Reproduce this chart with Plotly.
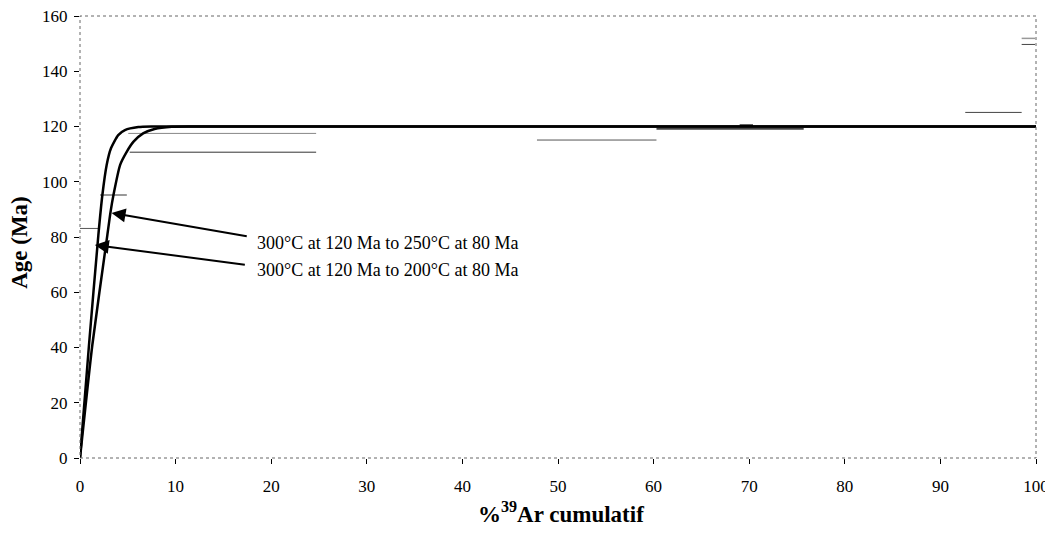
import plotly.graph_objects as go

# Model age spectra (cooling paths)
curve_a_x = [0, 0.94, 1.92, 2.34, 2.79, 3.24, 4.0, 4.7, 6.1, 7.5, 10, 100]
curve_a_y = [0, 40.9, 80.7, 95.2, 106.1, 112.1, 116.9, 118.7, 119.8, 120, 120, 120]
curve_b_x = [0, 1.29, 2.86, 3.2, 3.5, 4.2, 4.9, 5.6, 6.6, 7.8, 9.6, 12, 100]
curve_b_y = [0, 40.9, 80.7, 89.2, 95.2, 106.1, 110.9, 114.5, 117.5, 119.1, 119.9, 120, 120]

# Measured step ages (horizontal segments)
step_x0 = [0, 2.1, 5.05, 5.2, 47.8, 60.3, 69.0, 92.6, 98.5, 98.5]
step_x1 = [1.9, 4.9, 24.7, 24.7, 60.3, 75.7, 70.4, 98.5, 99.9, 99.9]
step_age = [83.1, 95.2, 117.5, 110.7, 115.1, 119.2, 120.4, 125.1, 151.9, 149.7]
step_colors = ["#555555", "#333333", "#888888", "#333333", "#555555", "#444444", "#000000", "#444444", "#999999", "#444444"]
step_widths = [1, 1, 1, 1, 1, 2, 2, 1, 1.5, 1]

x_ticks = list(range(0, 101, 10))
y_ticks = list(range(0, 161, 20))

label_a = "300°C at 120 Ma to 250°C at 80 Ma"
label_b = "300°C at 120 Ma to 200°C at 80 Ma"
x_title = "<b>%<sup>39</sup>Ar cumulatif</b>"
y_title = "<b>Age (Ma)</b>"

FONT = "Liberation Serif, Times New Roman, serif"

fig = go.Figure()

for x0, x1, a, c, w in zip(step_x0, step_x1, step_age, step_colors, step_widths):
    fig.add_trace(go.Scatter(x=[x0, x1], y=[a, a], mode="lines",
                             line=dict(color=c, width=w), hoverinfo="skip", showlegend=False))

fig.add_trace(go.Scatter(x=curve_b_x, y=curve_b_y, mode="lines",
                         line=dict(color="black", width=2.5, shape="spline", smoothing=0.6),
                         showlegend=False, name=label_a))
fig.add_trace(go.Scatter(x=curve_a_x, y=curve_a_y, mode="lines",
                         line=dict(color="black", width=2.5, shape="spline", smoothing=0.6),
                         showlegend=False, name=label_b))

# Arrows
fig.add_annotation(x=3.3, y=88.7, ax=17.6, ay=80.2, xref="x", yref="y", axref="x", ayref="y",
                   text="", showarrow=True, arrowhead=2, arrowsize=1.4, arrowwidth=2, arrowcolor="black")
fig.add_annotation(x=1.55, y=77.1, ax=17.4, ay=69.9, xref="x", yref="y", axref="x", ayref="y",
                   text="", showarrow=True, arrowhead=2, arrowsize=1.4, arrowwidth=2, arrowcolor="black")

fig.add_annotation(x=18.3, y=77.8, xref="x", yref="y", text=label_a, showarrow=False,
                   xanchor="left", yanchor="middle", font=dict(family=FONT, size=18, color="black"))
fig.add_annotation(x=18.3, y=68.1, xref="x", yref="y", text=label_b, showarrow=False,
                   xanchor="left", yanchor="middle", font=dict(family=FONT, size=18, color="black"))

# Axis titles
fig.add_annotation(x=0.503, y=-0.124, xref="paper", yref="paper", text=x_title, showarrow=False,
                   xanchor="center", yanchor="middle", font=dict(family=FONT, size=23, color="black"))
fig.add_annotation(x=-0.0628, y=0.489, xref="paper", yref="paper", text=y_title, showarrow=False,
                   textangle=-90, xanchor="center", yanchor="middle",
                   font=dict(family=FONT, size=23, color="black"))

# dotted frame
fig.add_shape(type="rect", xref="paper", yref="paper", x0=0, y0=0, x1=1, y1=1,
              line=dict(color="#666666", width=1, dash="dot"), layer="above")

# the page body adds an 8px offset, so the figure is sized to fill the rest of the window
fig.update_layout(
    width=1045, height=534,
    margin=dict(l=72, r=17, t=8, b=84),
    paper_bgcolor="white", plot_bgcolor="white",
    font=dict(family=FONT, size=17, color="black"),
    xaxis=dict(range=[0, 100], tickvals=x_ticks, ticks="outside", ticklen=5, tickcolor="black",
               showgrid=False, zeroline=False, showline=False, automargin=False,
               ticklabelstandoff=8, ticklabeloverflow="allow"),
    yaxis=dict(range=[0, 160], tickvals=y_ticks, ticks="outside", ticklen=5, tickcolor="black",
               showgrid=False, zeroline=False, showline=False, automargin=False,
               ticklabelstandoff=3, ticklabeloverflow="allow"),
)

fig.write_html("out.html")
